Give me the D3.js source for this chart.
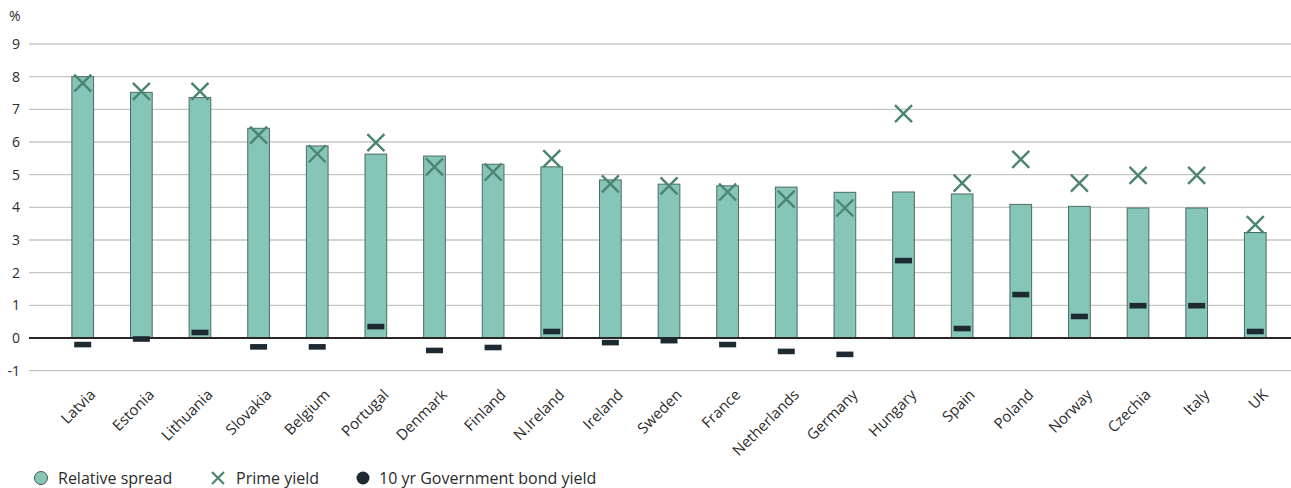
<!DOCTYPE html>
<html>
<head>
<meta charset="utf-8">
<script src="https://cdn.jsdelivr.net/npm/d3@7"></script>
<style>
	body { margin: 0; background: #fff; }
	svg text { font-family: "Open Sans", "Noto Sans", sans-serif; fill: #2b2b2b; }
</style>
</head>
<body>
<svg id="chart" width="1291" height="488"></svg>
<script>
var countries = ["Latvia", "Estonia", "Lithuania", "Slovakia", "Belgium", "Portugal", "Denmark",
	"Finland", "N.Ireland", "Ireland", "Sweden", "France", "Netherlands", "Germany", "Hungary",
	"Spain", "Poland", "Norway", "Czechia", "Italy", "UK"];
var relativeSpread = [8.0, 7.52, 7.36, 6.42, 5.88, 5.63, 5.57, 5.32, 5.24, 4.84, 4.71, 4.66, 4.62,
	4.46, 4.47, 4.41, 4.09, 4.03, 3.98, 3.98, 3.23];
var primeYield = [7.8, 7.55, 7.55, 6.21, 5.64, 5.98, 5.24, 5.08, 5.49, 4.72, 4.66, 4.47, 4.25,
	3.98, 6.87, 4.74, 5.47, 4.74, 4.98, 4.98, 3.47];
var bondYield = [-0.2, -0.03, 0.17, -0.27, -0.27, 0.35, -0.38, -0.29, 0.2, -0.14, -0.08, -0.2,
	-0.41, -0.5, 2.37, 0.29, 1.33, 0.66, 0.99, 0.99, 0.2];
var yTicks = [-1, 0, 1, 2, 3, 4, 5, 6, 7, 8, 9];

var BAR_FILL = "#86c6b9";
var BAR_STROKE = "#4d6b65";
var CROSS_COLOR = "#4b8472";
var BOND_COLOR = "#1d2a31";

var data = countries.map(function(c, i) {
	return {name: c, spread: relativeSpread[i], prime: primeYield[i], bond: bondYield[i]};
});

var svg = d3.select("#chart");

var x = d3.scaleBand()
	.domain(countries)
	.range([53.4, 1284.6])
	.paddingInner(0.63)
	.paddingOuter(0.315);

var y = d3.scaleLinear()
	.domain([-1, 9])
	.range([370.7, 44]);

// gridlines
svg.append("g").selectAll("line")
	.data(yTicks)
	.enter()
	.append("line")
	.attr("x1", 29)
	.attr("x2", 1291)
	.attr("y1", function(d) { return y(d); })
	.attr("y2", function(d) { return y(d); })
	.attr("stroke", "#c6c6c6")
	.attr("stroke-width", 1.3);

// y tick labels (plain hyphen for -1, like the original)
var yAxis = d3.axisLeft(y).tickValues(yTicks).tickSize(0).tickPadding(0)
	.tickFormat(function(d) { return String(d); });
var yg = svg.append("g")
	.attr("transform", "translate(20,0)")
	.call(yAxis);
yg.select(".domain").remove();
yg.selectAll("text")
	.style("font-size", "14px")
	.attr("fill", "#2b2b2b");

svg.append("text")
	.attr("x", 9)
	.attr("y", 21)
	.style("font-size", "14px")
	.text("%");

// bars
svg.append("g").selectAll("rect")
	.data(data)
	.enter()
	.append("rect")
	.attr("x", function(d) { return x(d.name); })
	.attr("y", function(d) { return y(d.spread); })
	.attr("width", x.bandwidth())
	.attr("height", function(d) { return y(0) - y(d.spread); })
	.attr("fill", BAR_FILL)
	.attr("stroke", BAR_STROKE)
	.attr("stroke-width", 1);

// zero line
svg.append("line")
	.attr("x1", 29)
	.attr("x2", 1291)
	.attr("y1", y(0))
	.attr("y2", y(0))
	.attr("stroke", "#2a2626")
	.attr("stroke-width", 2);

// bond yield marks
svg.append("g").selectAll("rect")
	.data(data)
	.enter()
	.append("rect")
	.attr("x", function(d) { return x(d.name) + x.bandwidth() / 2 - 8.5; })
	.attr("y", function(d) { return y(d.bond) - 2.8; })
	.attr("width", 17)
	.attr("height", 5.6)
	.attr("fill", BOND_COLOR);

// prime yield crosses
var CS = 8.5;
var crosses = svg.append("g").selectAll("g")
	.data(data)
	.enter()
	.append("g")
	.attr("transform", function(d) {
		return "translate(" + (x(d.name) + x.bandwidth() / 2) + "," + y(d.prime) + ")";
	});
crosses.append("path")
	.attr("d", "M" + (-CS) + "," + (-CS) + "L" + CS + "," + CS + "M" + (-CS) + "," + CS + "L" + CS + "," + (-CS))
	.attr("stroke", CROSS_COLOR)
	.attr("stroke-width", 2.4)
	.attr("fill", "none");

// x labels
svg.append("g").selectAll("text")
	.data(data)
	.enter()
	.append("text")
	.attr("transform", function(d) {
		return "translate(" + (x(d.name) + x.bandwidth() / 2 + 10) + ",392) rotate(-45)";
	})
	.attr("text-anchor", "end")
	.attr("dy", "0.35em")
	.style("font-size", "15px")
	.text(function(d) { return d.name; });

// legend
var legend = svg.append("g").attr("transform", "translate(0,478)");
legend.append("circle")
	.attr("cx", 41).attr("cy", 0).attr("r", 6.5)
	.attr("fill", BAR_FILL).attr("stroke", "#3f5a54").attr("stroke-width", 1);
legend.append("text")
	.attr("x", 58).attr("y", 0).attr("dy", "0.35em")
	.style("font-size", "16px")
	.text("Relative spread");
legend.append("path")
	.attr("d", "M212,-6L224,6M212,6L224,-6")
	.attr("stroke", CROSS_COLOR).attr("stroke-width", 2.2);
legend.append("text")
	.attr("x", 236).attr("y", 0).attr("dy", "0.35em")
	.style("font-size", "16px")
	.text("Prime yield");
legend.append("circle")
	.attr("cx", 363).attr("cy", 0).attr("r", 6.5)
	.attr("fill", BOND_COLOR);
legend.append("text")
	.attr("x", 379).attr("y", 0).attr("dy", "0.35em")
	.style("font-size", "16px")
	.text("10 yr Government bond yield");
</script>
</body>
</html>
